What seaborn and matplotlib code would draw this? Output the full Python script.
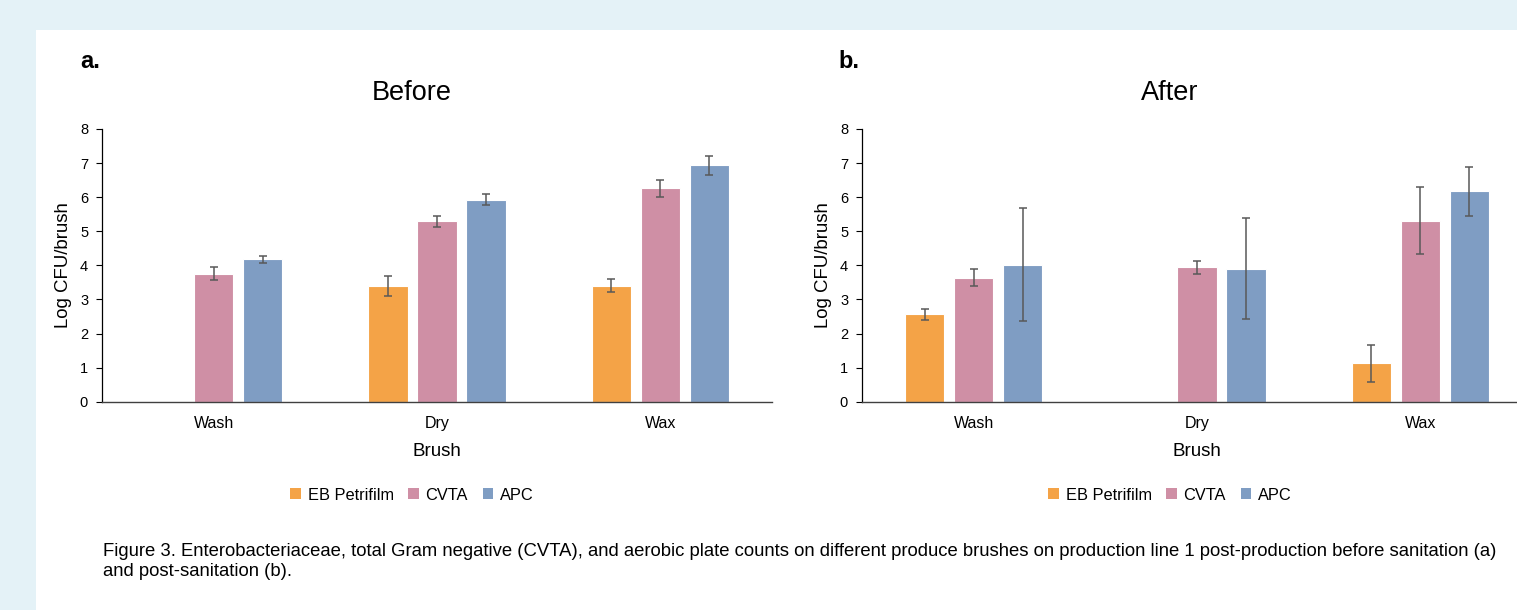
import pandas as pd
import numpy as np
import matplotlib
matplotlib.use("Agg")
import matplotlib.pyplot as plt
from matplotlib.patches import Rectangle, Patch
import seaborn as sns

# data
brushes = ["Wash", "Dry", "Wax"]
media = ["EB Petrifilm", "CVTA", "APC"]

before_eb = [np.nan, 3.40, 3.40]
before_cvta = [3.75, 5.29, 6.26]
before_apc = [4.18, 5.93, 6.94]
before_eb_err = [np.nan, 0.30, 0.19]
before_cvta_err = [0.19, 0.17, 0.25]
before_apc_err = [0.10, 0.15, 0.28]

after_eb = [2.57, np.nan, 1.13]
after_cvta = [3.64, 3.95, 5.31]
after_apc = [4.02, 3.90, 6.17]
after_eb_err = [0.16, np.nan, 0.54]
after_cvta_err = [0.26, 0.19, 0.99]
after_apc_err = [1.66, 1.48, 0.72]

colors = ["#F4A347", "#CF8FA5", "#7F9DC3"]
caption = ("Figure 3. Enterobacteriaceae, total Gram negative (CVTA), and aerobic plate counts on different "
           "produce brushes on production line 1 post-production before sanitation (a)\nand post-sanitation (b).")


def make_df(eb, cvta, apc, eb_e, cvta_e, apc_e):
    rows = []
    for m, vals, errs in zip(media, [eb, cvta, apc], [eb_e, cvta_e, apc_e]):
        for b, v, e in zip(brushes, vals, errs):
            rows.append({"Brush": b, "Medium": m, "Log": v, "Err": e})
    return pd.DataFrame(rows)


df_before = make_df(before_eb, before_cvta, before_apc, before_eb_err, before_cvta_err, before_apc_err)
df_after = make_df(after_eb, after_cvta, after_apc, after_eb_err, after_cvta_err, after_apc_err)

sns.set_style("white")
plt.rcParams["font.family"] = ["Liberation Sans", "DejaVu Sans"]
plt.rcParams["text.color"] = "black"
plt.rcParams["axes.labelcolor"] = "black"
plt.rcParams["xtick.color"] = "black"
plt.rcParams["ytick.color"] = "black"

fig = plt.figure(figsize=(15.17, 6.10), dpi=100)
fig.patch.set_facecolor("#E4F2F7")
fig.patches.append(Rectangle((36 / 1517, 0), 1, 1 - 30 / 610, transform=fig.transFigure,
                             facecolor="white", edgecolor="none", zorder=-5))

W = 0.66
ax_a = fig.add_axes([102 / 1517, 1 - 401.7 / 610, 670 / 1517, 272.7 / 610])
ax_b = fig.add_axes([862 / 1517, 1 - 401.7 / 610, 670 / 1517, 272.7 / 610])

for ax, df, title, tag, tagx, legx, axleft in [(ax_a, df_before, "Before", "a.", 80, 412, 102),
                                               (ax_b, df_after, "After", "b.", 838, 1170, 862)]:
    sns.barplot(data=df.dropna(subset=["Log"]), x="Brush", y="Log", hue="Medium", order=brushes,
                hue_order=media, palette=colors, width=W, gap=0.2, saturation=1,
                edgecolor="white", linewidth=0.8, ax=ax, legend=False)
    for j, m in enumerate(media):
        sub = df[(df.Medium == m)].dropna(subset=["Log"])
        xs = [brushes.index(b) + (j - 1) * W / 3 for b in sub.Brush]
        ax.errorbar(xs, sub.Log, yerr=sub.Err, fmt="none", ecolor="#595959",
                    elinewidth=1.1, capsize=3, capthick=1.1, zorder=5)
    ax.set_ylim(0, 8)
    ax.set_xlim(-0.5, 2.5)
    ax.set_yticks(range(0, 9))
    ax.tick_params(axis="y", labelsize=10.5, length=4, width=0.8, color="black", pad=6, direction="out", left=True)
    ax.tick_params(axis="x", labelsize=11.5, length=0, pad=10)
    ax.set_facecolor("none")
    for s in ["top", "right"]:
        ax.spines[s].set_visible(False)
    ax.spines["left"].set_color("black")
    ax.spines["left"].set_linewidth(0.9)
    ax.spines["bottom"].set_color("#404040")
    ax.spines["bottom"].set_linewidth(1.0)
    ax.set_xlabel("Brush", fontsize=13.5, labelpad=9)
    ax.set_ylabel("Log CFU/brush", fontsize=13.4, labelpad=6)
    ax.set_title(title, fontsize=19.5, pad=21, x=(legx - axleft) / 670)
    fig.text(tagx / 1517, 1 - 62 / 610, tag, fontsize=17, fontweight="bold", va="center", ha="left")
    handles = [Patch(facecolor=c, edgecolor="none") for c in colors]
    fig.legend(handles, media, loc="center", bbox_to_anchor=(legx / 1517, 1 - 495 / 610),
               ncol=3, frameon=False, fontsize=11.8, handlelength=0.65, handleheight=0.65,
               handletextpad=0.4, columnspacing=0.9)

fig.text(103 / 1517, 1 - 543 / 610, caption, fontsize=13.3, va="top", ha="left",
         family=["Liberation Sans Narrow", "Liberation Sans", "DejaVu Sans"], linespacing=1.2)

fig.savefig("out.png", dpi=100, facecolor=fig.get_facecolor())
